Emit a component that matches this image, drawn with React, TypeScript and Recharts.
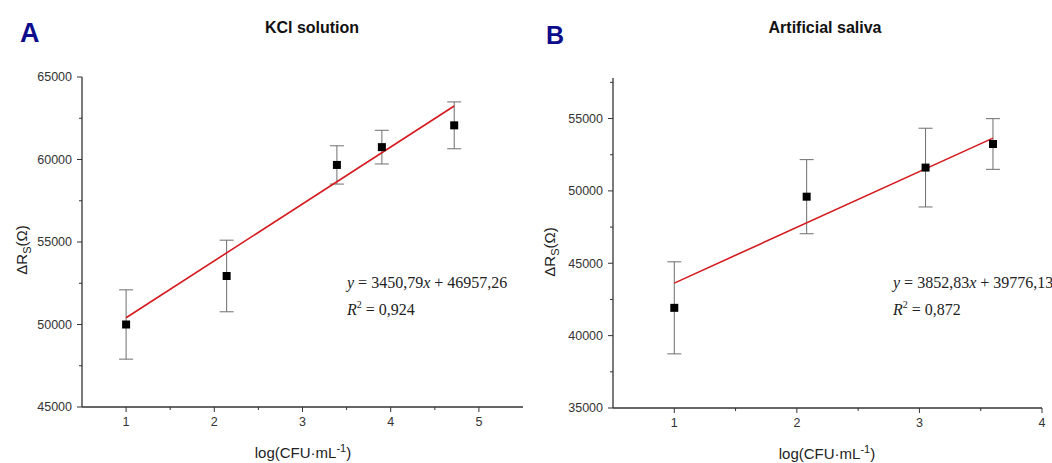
import React from 'react';
import { ScatterChart, Scatter, XAxis, YAxis, ZAxis, ErrorBar } from 'recharts';

// panel A - KCl solution
const kclPoints = [
  { x: 1.0, y: 50000, err: 2100 },
  { x: 2.14, y: 52940, err: 2170 },
  { x: 3.39, y: 59670, err: 1160 },
  { x: 3.9, y: 60750, err: 1020 },
  { x: 4.72, y: 62070, err: 1420 },
];
const kclFit = [
  { x: 1.0, y: 50408 },
  { x: 4.72, y: 63245 },
];
const kclXTicks = [1, 1.5, 2, 2.5, 3, 3.5, 4, 4.5, 5];
const kclYTicks = [45000, 47500, 50000, 52500, 55000, 57500, 60000, 62500, 65000];

// panel B - artificial saliva
const salivaPoints = [
  { x: 1.0, y: 41920, err: 3180 },
  { x: 2.08, y: 49600, err: 2560 },
  { x: 3.05, y: 51610, err: 2720 },
  { x: 3.6, y: 53240, err: 1750 },
];
const salivaFit = [
  { x: 1.0, y: 43629 },
  { x: 3.6, y: 53646 },
];
const salivaXTicks = [1, 1.5, 2, 2.5, 3, 3.5, 4];
const salivaYTicks = [35000, 37500, 40000, 42500, 45000, 47500, 50000, 52500, 55000, 57500];

const SANS = '"Liberation Sans", Arial, sans-serif';
const SERIF = '"Liberation Serif", "Times New Roman", serif';
const AXIS = '#333';

const YTick = ({ x, y, payload }: any) => {
  const major = payload.value % 5000 === 0;
  return (
    <g>
      <line x1={x} x2={x - (major ? 5 : 3)} y1={y} y2={y} stroke={AXIS} strokeWidth={1} />
      {major && (
        <text x={x - 10} y={y} dy="0.35em" textAnchor="end" fontSize={12.5} fontFamily={SANS} fill="#333">
          {payload.value}
        </text>
      )}
    </g>
  );
};

const XTick = ({ x, y, payload }: any) => {
  const major = Number.isInteger(payload.value);
  return (
    <g>
      <line x1={x} x2={x} y1={y} y2={y + (major ? 5 : 3)} stroke={AXIS} strokeWidth={1} />
      {major && (
        <text x={x} y={y + 15} dy="0.35em" textAnchor="middle" fontSize={12.5} fontFamily={SANS} fill="#333">
          {payload.value}
        </text>
      )}
    </g>
  );
};

const NoShape = () => <g />;

interface PanelProps {
  points: any[];
  fit: any[];
  xDomain: [number, number];
  yDomain: [number, number];
  xTicks: number[];
  yTicks: number[];
  width: number;
  margin: { top: number; right: number; bottom: number; left: number };
}

const Panel = ({ points, fit, xDomain, yDomain, xTicks, yTicks, width, margin }: PanelProps) => (
  <ScatterChart width={width} height={463} margin={margin}>
    <XAxis
      type="number"
      dataKey="x"
      domain={xDomain}
      ticks={xTicks}
      interval={0}
      tickSize={0}
      tickMargin={0}
      tick={<XTick />}
      tickLine={false}
      height={30}
      axisLine={{ stroke: AXIS, strokeWidth: 1.3 }}
      allowDataOverflow
    />
    <YAxis
      type="number"
      dataKey="y"
      domain={yDomain}
      ticks={yTicks}
      interval={0}
      tickSize={0}
      tickMargin={0}
      tick={<YTick />}
      tickLine={false}
      width={60}
      axisLine={{ stroke: AXIS, strokeWidth: 1.3 }}
      allowDataOverflow
    />
    <ZAxis range={[42, 42]} />
    <Scatter
      data={fit}
      fill="none"
      line={{ stroke: '#d41a1f', strokeWidth: 1.6 }}
      shape={<NoShape />}
      isAnimationActive={false}
    />
    <Scatter data={points} fill="#000" shape="square" isAnimationActive={false}>
      <ErrorBar dataKey="err" direction="y" width={7} stroke="#6e6e6e" strokeWidth={1} isAnimationActive={false} />
    </Scatter>
  </ScatterChart>
);

const YLabel = ({ x, y }: { x: number; y: number }) => (
  <text transform={`translate(${x},${y}) rotate(-90)`} textAnchor="middle" fontSize={15} fontFamily={SANS} fill="#222">
    ΔR<tspan fontSize={11} dy={4}>S</tspan>
    <tspan dy={-4}>(Ω)</tspan>
  </text>
);

const XLabel = ({ x, y }: { x: number; y: number }) => (
  <text x={x} y={y} textAnchor="middle" fontSize={15} fontFamily={SANS} fill="#222">
    log(CFU·mL<tspan fontSize={11} dy={-6}>-1</tspan>
    <tspan dy={6}>)</tspan>
  </text>
);

const Equation = ({ x, y, slope, intercept, r2 }: any) => (
  <g fontFamily={SERIF} fontSize={16} fill="#222">
    <text x={x} y={y}>
      <tspan fontStyle="italic">y</tspan> = {slope}
      <tspan fontStyle="italic">x</tspan> + {intercept}
    </text>
    <text x={x} y={y + 27}>
      <tspan fontStyle="italic">R</tspan>
      <tspan fontSize={10} dy={-7}>2</tspan>
      <tspan dy={7}> = {r2}</tspan>
    </text>
  </g>
);

export default function App() {
  return (
    <div style={{ position: 'absolute', left: 0, top: 0, width: 1052, height: 463, background: '#fff', overflow: 'hidden' }}>
      <div style={{ position: 'absolute', left: 0, top: 0 }}>
        <Panel
          points={kclPoints}
          fit={kclFit}
          xDomain={[0.5, 5.5]}
          yDomain={[45000, 65000]}
          xTicks={kclXTicks}
          yTicks={kclYTicks}
          width={530}
          margin={{ top: 77, right: 7, bottom: 26, left: 22 }}
        />
      </div>
      <div style={{ position: 'absolute', left: 525, top: 0 }}>
        <Panel
          points={salivaPoints}
          fit={salivaFit}
          xDomain={[0.5, 4]}
          yDomain={[35000, 57800]}
          xTicks={salivaXTicks}
          yTicks={salivaYTicks}
          width={527}
          margin={{ top: 78, right: 10, bottom: 25, left: 28 }}
        />
      </div>
      <svg width={1052} height={463} style={{ position: 'absolute', left: 0, top: 0, pointerEvents: 'none' }}>
        <text x={20} y={42} fontSize={27} fontWeight="bold" fontFamily={SANS} fill="#0c0c8c">A</text>
        <text x={546} y={44} fontSize={25} fontWeight="bold" fontFamily={SANS} fill="#0c0c8c">B</text>
        <text x={312} y={33} textAnchor="middle" fontSize={16} fontWeight="bold" fontFamily={SANS} fill="#111">KCl solution</text>
        <text x={825} y={33} textAnchor="middle" fontSize={16} fontWeight="bold" fontFamily={SANS} fill="#111">Artificial saliva</text>
        <YLabel x={27} y={250} />
        <YLabel x={555} y={252} />
        <XLabel x={303} y={458} />
        <XLabel x={827} y={459} />
        <Equation x={347} y={288} slope="3450,79" intercept="46957,26" r2="0,924" />
        <Equation x={893} y={288} slope="3852,83" intercept="39776,13" r2="0,872" />
      </svg>
    </div>
  );
}
